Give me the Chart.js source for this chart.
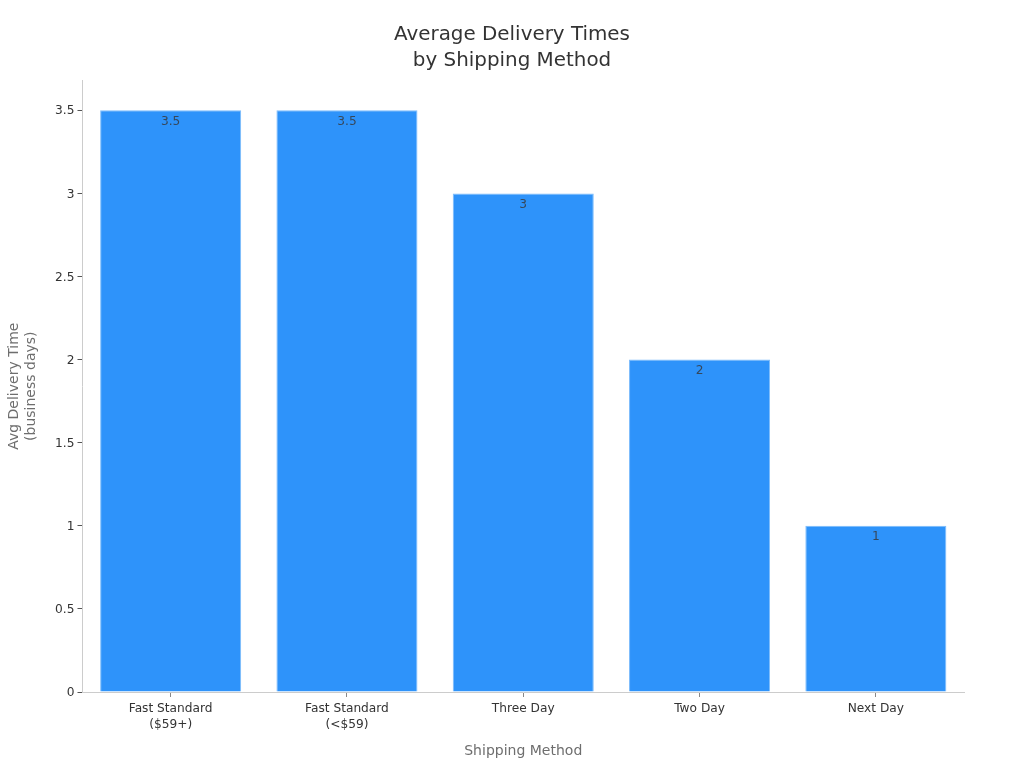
<!DOCTYPE html>
<html>
<head>
<meta charset="utf-8">
<script src="https://cdn.jsdelivr.net/npm/chart.js@4/dist/chart.umd.min.js"></script>
<style>html,body{margin:0;padding:0;background:#fff}canvas{display:block}</style>
</head>
<body>
<canvas id="c" width="1024" height="768" style="width:1024px;height:768px"></canvas>
<script>
const categories = [["Fast Standard","($59+)"],["Fast Standard","(<$59)"],"Three Day","Two Day","Next Day"];
const deliveryDays = [3.5,3.5,3,2,1];
const yTickValues = [0,0.5,1,1.5,2,2.5,3,3.5];
const chartTitle = ["Average Delivery Times","by Shipping Method"];
const yTitle = ["Avg Delivery Time","(business days)"];
const xTitle = "Shipping Method";
const FONT = "'DejaVu Sans', sans-serif";

const valueLabels = {
  id:"valueLabels",
  afterDatasetsDraw(chart){
    const ctx = chart.ctx;
    const meta = chart.getDatasetMeta(0);
    ctx.save();
    ctx.font = "12.2px "+FONT;
    ctx.fillStyle = "#36485c";
    ctx.textAlign = "center";
    ctx.textBaseline = "middle";
    meta.data.forEach((el,i)=>{
      ctx.fillText(String(deliveryDays[i]), el.x, el.y+11.5);
    });
    ctx.restore();
  }
};

const centerTitle = {
  id:"centerTitle",
  afterLayout(chart){
    chart.titleBlock.left = 0;
    chart.titleBlock.right = chart.width;
  }
};

new Chart(document.getElementById("c"),{
  type:"bar",
  data:{labels:categories,datasets:[{
    data:deliveryDays,
    backgroundColor:"#2e93fa",
    borderColor:"#7cbcfc",
    borderWidth:1,
    categoryPercentage:0.8,
    barPercentage:1
  }]},
  plugins:[valueLabels,centerTitle],
  options:{
    responsive:false,
    animation:false,
    devicePixelRatio:1,
    layout:{padding:{left:5.5,right:60,top:0,bottom:8}},
    plugins:{
      legend:{display:false},
      tooltip:{enabled:false},
      title:{display:true,text:chartTitle,color:"#333333",
        font:{family:FONT,size:19.9,weight:"normal",lineHeight:1.306},
        padding:{top:22,bottom:6.4}}
    },
    scales:{
      x:{
        grid:{drawOnChartArea:false,drawTicks:true,tickLength:5,color:"#888888",offset:false},
        border:{color:"#cccccc",width:1},
        ticks:{color:"#333333",font:{family:FONT,size:12.2,lineHeight:1.31},padding:4,maxRotation:0,autoSkip:false},
        title:{display:true,text:xTitle,color:"#6e6e6e",font:{family:FONT,size:14},padding:0},
        afterFit(s){s.height=68;}
      },
      y:{
        min:0,max:3.68,
        afterBuildTicks(s){s.ticks=yTickValues.map(v=>({value:v}));},
        grid:{drawOnChartArea:false,drawTicks:true,tickLength:5,color:"#555555"},
        border:{color:"#cccccc",width:1},
        ticks:{color:"#333333",font:{family:FONT,size:12.2,lineHeight:"2px"},padding:3,callback:v=>["",String(v)]},
        title:{display:true,text:yTitle,color:"#6e6e6e",font:{family:FONT,size:14,lineHeight:1.2},padding:{top:0.5,bottom:0}},
        afterFit(s){s.width=77;}
      }
    }
  }
});
</script>
</body>
</html>
